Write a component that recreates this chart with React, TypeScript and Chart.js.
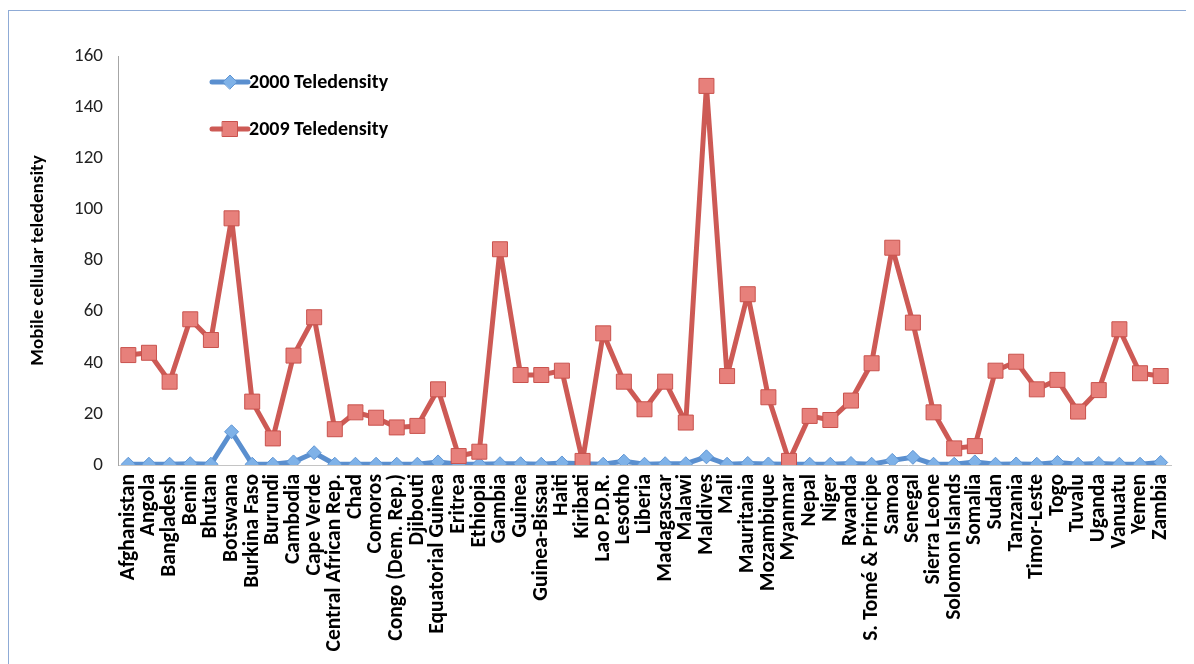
import React, { useEffect, useRef } from 'react';
import { Chart, registerables } from 'chart.js';

Chart.register(...registerables);

const countries = [
  'Afghanistan', 'Angola', 'Bangladesh', 'Benin', 'Bhutan', 'Botswana', 'Burkina Faso', 'Burundi',
  'Cambodia', 'Cape Verde', 'Central African Rep.', 'Chad', 'Comoros', 'Congo (Dem. Rep.)', 'Djibouti',
  'Equatorial Guinea', 'Eritrea', 'Ethiopia', 'Gambia', 'Guinea', 'Guinea-Bissau', 'Haiti', 'Kiribati',
  'Lao P.D.R.', 'Lesotho', 'Liberia', 'Madagascar', 'Malawi', 'Maldives', 'Mali', 'Mauritania',
  'Mozambique', 'Myanmar', 'Nepal', 'Niger', 'Rwanda', 'S. Tomé & Principe', 'Samoa', 'Senegal',
  'Sierra Leone', 'Solomon Islands', 'Somalia', 'Sudan', 'Tanzania', 'Timor-Leste', 'Togo', 'Tuvalu',
  'Uganda', 'Vanuatu', 'Yemen', 'Zambia',
];

const teledensity2000 = [
  0.3, 0.3, 0.3, 0.5, 0.3, 13.0, 0.3, 0.3,
  1.2, 4.8, 0.3, 0.3, 0.3, 0.3, 0.3,
  1.2, 0.3, 0.3, 0.5, 0.5, 0.3, 0.8, 0.5,
  0.3, 1.5, 0.3, 0.5, 0.5, 3.2, 0.3, 0.6,
  0.4, 0.3, 0.3, 0.3, 0.6, 0.3, 1.8, 3.0,
  0.3, 0.3, 1.2, 0.3, 0.4, 0.3, 1.0, 0.3,
  0.6, 0.3, 0.3, 1.0,
];

const teledensity2009 = [
  43.0, 43.9, 32.6, 57.0, 48.9, 96.5, 24.8, 10.4,
  42.8, 57.8, 14.0, 20.6, 18.5, 14.7, 15.3,
  29.6, 3.5, 5.2, 84.4, 35.2, 35.2, 36.9, 1.6,
  51.5, 32.6, 21.8, 32.6, 16.6, 148.3, 34.8, 66.8,
  26.5, 1.6, 19.2, 17.6, 25.2, 39.8, 85.0, 55.7,
  20.6, 6.5, 7.4, 36.9, 40.4, 29.6, 33.3, 20.9,
  29.3, 53.1, 35.9, 34.8,
];

const seriesNames = ['2000 Teledensity', '2009 Teledensity'];
const yAxisTitle = 'Mobile cellular teledensity';

const FONT = 'Carlito, Lato, "Noto Sans", sans-serif';

const BLUE_LINE = '#5a8fcf';
const BLUE_FILL = '#7fb2e8';
const BLUE_BORDER = '#5e95d4';
const RED_LINE = '#cd5a55';
const RED_FILL = '#e7807b';
const RED_BORDER = '#c9524d';

function drawDiamond(ctx: CanvasRenderingContext2D, x: number, y: number, r: number) {
  ctx.beginPath();
  ctx.moveTo(x - r, y);
  ctx.lineTo(x, y - r);
  ctx.lineTo(x + r, y);
  ctx.lineTo(x, y + r);
  ctx.closePath();
}

const legendPlugin = {
  id: 'insideLegend',
  afterDraw(chart: any) {
    const ctx: CanvasRenderingContext2D = chart.ctx;
    const a = chart.chartArea;
    const items = [
      { name: seriesNames[0], line: BLUE_LINE, fill: BLUE_FILL, border: BLUE_BORDER, shape: 'diamond' },
      { name: seriesNames[1], line: RED_LINE, fill: RED_FILL, border: RED_BORDER, shape: 'square' },
    ];
    items.forEach((it, i) => {
      const y = a.top + 26 + i * 47;
      const x0 = a.left + 94;
      const x1 = x0 + 36;
      ctx.save();
      ctx.strokeStyle = it.line;
      ctx.lineWidth = 5;
      ctx.lineCap = 'round';
      ctx.beginPath();
      ctx.moveTo(x0, y);
      ctx.lineTo(x1, y);
      ctx.stroke();
      const cx = (x0 + x1) / 2;
      ctx.fillStyle = it.fill;
      ctx.strokeStyle = it.border;
      ctx.lineWidth = 1;
      if (it.shape === 'diamond') {
        drawDiamond(ctx, cx, y, 7);
      } else {
        ctx.beginPath();
        ctx.rect(cx - 7.5, y - 7.5, 15, 15);
      }
      ctx.fill();
      ctx.stroke();
      ctx.fillStyle = '#000';
      ctx.font = `bold 20px ${FONT}`;
      ctx.textBaseline = 'middle';
      ctx.textAlign = 'left';
      ctx.fillText(it.name, x1 + 1, y + 1);
      ctx.restore();
    });
  },
};

export default function App() {
  const ref = useRef<HTMLCanvasElement | null>(null);

  useEffect(() => {
    document.documentElement.style.overflow = 'hidden';
    const canvas = ref.current;
    if (!canvas) return;
    const chart = new Chart(canvas, {
      type: 'line',
      data: {
        labels: countries,
        datasets: [
          {
            label: seriesNames[0],
            data: teledensity2000,
            borderColor: BLUE_LINE,
            backgroundColor: BLUE_FILL,
            borderWidth: 5,
            borderJoinStyle: 'round',
            pointStyle: 'rectRot',
            pointRadius: 7,
            pointBackgroundColor: BLUE_FILL,
            pointBorderColor: BLUE_BORDER,
            pointBorderWidth: 1,
            tension: 0,
            order: 1,
          },
          {
            label: seriesNames[1],
            data: teledensity2009,
            borderColor: RED_LINE,
            backgroundColor: RED_FILL,
            borderWidth: 5,
            borderJoinStyle: 'round',
            pointStyle: 'rect',
            pointRadius: 10.6,
            pointBackgroundColor: RED_FILL,
            pointBorderColor: RED_BORDER,
            pointBorderWidth: 1,
            tension: 0,
            order: 0,
          },
        ],
      },
      options: {
        responsive: false,
        animation: false,
        devicePixelRatio: 1,
        layout: { padding: { left: 0, right: 18, top: 45, bottom: 0 } },
        plugins: {
          legend: { display: false },
          tooltip: { enabled: false },
        },
        scales: {
          x: {
            type: 'category',
            offset: true,
            grid: { display: false, drawTicks: false },
            border: { display: true, color: '#c4c4c4', width: 1 },
            ticks: {
              autoSkip: false,
              minRotation: 90,
              maxRotation: 90,
              padding: 9,
              color: '#000',
              font: { family: FONT, size: 21.5, weight: 'bold' },
            },
            afterFit: (scale: any) => {
              scale.height = 199;
              scale.paddingLeft = 0;
              scale.paddingRight = 0;
            },
          },
          y: {
            min: 0,
            max: 160,
            grid: { display: false, drawTicks: false },
            border: { display: true, color: '#a6a6a6', width: 1 },
            ticks: {
              stepSize: 20,
              padding: 15,
              color: '#222',
              font: { family: FONT, size: 19 },
            },
            title: {
              display: true,
              text: yAxisTitle,
              color: '#000',
              font: { family: FONT, size: 19, weight: 'bold' },
              padding: { top: 18, bottom: 0 },
            },
            afterFit: (scale: any) => {
              scale.width = 109;
            },
          },
        },
      },
      plugins: [legendPlugin],
    } as any);
    return () => chart.destroy();
  }, []);

  return (
    <div style={{ paddingTop: 2 }}>
      <div
        style={{
          width: 1184,
          height: 654,
          borderTop: '1px solid #8fabd6',
          borderLeft: '1px solid #8fabd6',
          boxSizing: 'border-box',
          background: '#fff',
          overflow: 'hidden',
        }}
      >
        <canvas ref={ref} width={1180} height={653} style={{ display: 'block', width: 1180, height: 653 }} />
      </div>
    </div>
  );
}
